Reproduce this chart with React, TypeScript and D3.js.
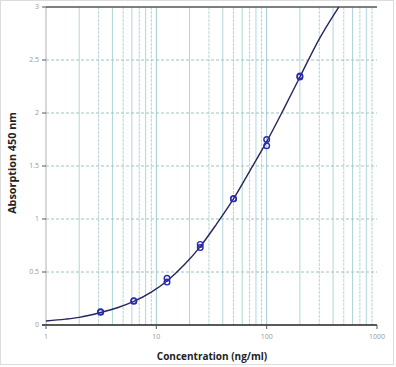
import React from "react";
import * as d3 from "d3";

const concentrations = [3.125, 3.125, 6.25, 6.25, 12.5, 12.5, 25, 25, 50, 50, 100, 100, 200, 200];
const absorbance = [0.12, 0.125, 0.225, 0.228, 0.44, 0.405, 0.73, 0.76, 1.19, 1.19, 1.75, 1.69, 2.34, 2.35];

const curveX = [1, 1.5, 2, 3.125, 4.5, 6.25, 9, 12.5, 18, 25, 35, 50, 70, 100, 140, 200, 300, 450];
const curveY = [0.038, 0.055, 0.072, 0.118, 0.165, 0.222, 0.31, 0.415, 0.57, 0.74, 0.95, 1.19, 1.45, 1.73, 2.02, 2.34, 2.7, 3.0];

const xTicks = [1, 10, 100, 1000];
const yTicks = [0, 0.5, 1, 1.5, 2, 2.5, 3];
const yTickLabels = ["0", "0.5", "1", "1.5", "2", "2.5", "3"];

const W = 396;
const H = 367;

export default function App() {
  const x = d3.scaleLog().domain([1, 1000]).range([46, 377]);
  const y = d3.scaleLinear().domain([0, 3]).range([325, 7]);

  const minor: number[] = [];
  for (const dec of [1, 10, 100]) {
    for (let k = 2; k <= 9; k++) minor.push(dec * k);
  }

  const line = d3
    .line<number>()
    .x((_, i) => x(curveX[i]))
    .y((d) => y(d))
    .curve(d3.curveMonotoneX);

  const grid = "#b0d6d8";

  return (
    <svg
      width={W}
      height={H}
      style={{ position: "absolute", left: 0, top: 0, background: "#fff" }}
    >
      <rect x={0.5} y={0.5} width={393} height={364} fill="#fff" stroke="#dcdcdc" />
      {minor.map((v, i) => (
        <line
          key={"vm" + i}
          x1={x(v)}
          x2={x(v)}
          y1={y(3)}
          y2={y(0)}
          stroke={grid}
          strokeWidth={1}
          strokeDasharray={i % 2 === 0 ? undefined : "3,1"}
        />
      ))}
      {[10, 100].map((v) => (
        <line key={"vM" + v} x1={x(v)} x2={x(v)} y1={y(3)} y2={y(0)} stroke="#9fcccf" strokeWidth={1} />
      ))}
      {yTicks.slice(1, -1).map((v) => (
        <line
          key={"h" + v}
          x1={x(1)}
          x2={x(1000)}
          y1={y(v)}
          y2={y(v)}
          stroke="#9cc4c4"
          strokeWidth={1}
          strokeDasharray="3,2"
        />
      ))}
      <line x1={x(1)} x2={x(1)} y1={y(3)} y2={y(0)} stroke="#b0b0b0" strokeWidth={1} />
      <line x1={x(1)} x2={x(1000)} y1={y(3)} y2={y(3)} stroke="#555" strokeWidth={1.3} />
      <line x1={x(1) - 4} x2={x(1000)} y1={y(0)} y2={y(0)} stroke="#222" strokeWidth={1.5} />
      {yTicks.map((v, i) => (
        <g key={"yt" + v}>
          <line x1={x(1) - 4} x2={x(1)} y1={y(v)} y2={y(v)} stroke="#555" strokeWidth={1} />
          <text
            x={x(1) - 7}
            y={y(v)}
            dy="0.35em"
            textAnchor="end"
            fontSize={7}
            fill="#999"
            fontFamily="'Open Sans', sans-serif"
          >
            {yTickLabels[i]}
          </text>
        </g>
      ))}
      {xTicks.map((v) => (
        <g key={"xt" + v}>
          <line x1={x(v)} x2={x(v)} y1={y(0)} y2={y(0) + 4} stroke="#555" strokeWidth={1} />
          <text
            x={x(v)}
            y={y(0) + 14}
            textAnchor="middle"
            fontSize={7}
            fill="#999"
            fontFamily="'Open Sans', sans-serif"
          >
            {v}
          </text>
        </g>
      ))}
      <path d={line(curveY) || ""} fill="none" stroke="#252560" strokeWidth={1.4} />
      {concentrations.map((c, i) => (
        <circle
          key={"p" + i}
          cx={x(c)}
          cy={y(absorbance[i])}
          r={2.8}
          fill="none"
          stroke="#2b2bb0"
          strokeWidth={1.4}
        />
      ))}
      <text
        x={212}
        y={360}
        textAnchor="middle"
        fontSize={10}
        fontWeight="bold"
        fill="#222"
        fontFamily="'Open Sans', sans-serif"
      >
        Concentration (ng/ml)
      </text>
      <text
        transform={`translate(16,163) rotate(-90)`}
        textAnchor="middle"
        fontSize={10.8}
        fontWeight="bold"
        fill="#222"
        fontFamily="'Open Sans', sans-serif"
      >
        Absorption 450 nm
      </text>
    </svg>
  );
}
